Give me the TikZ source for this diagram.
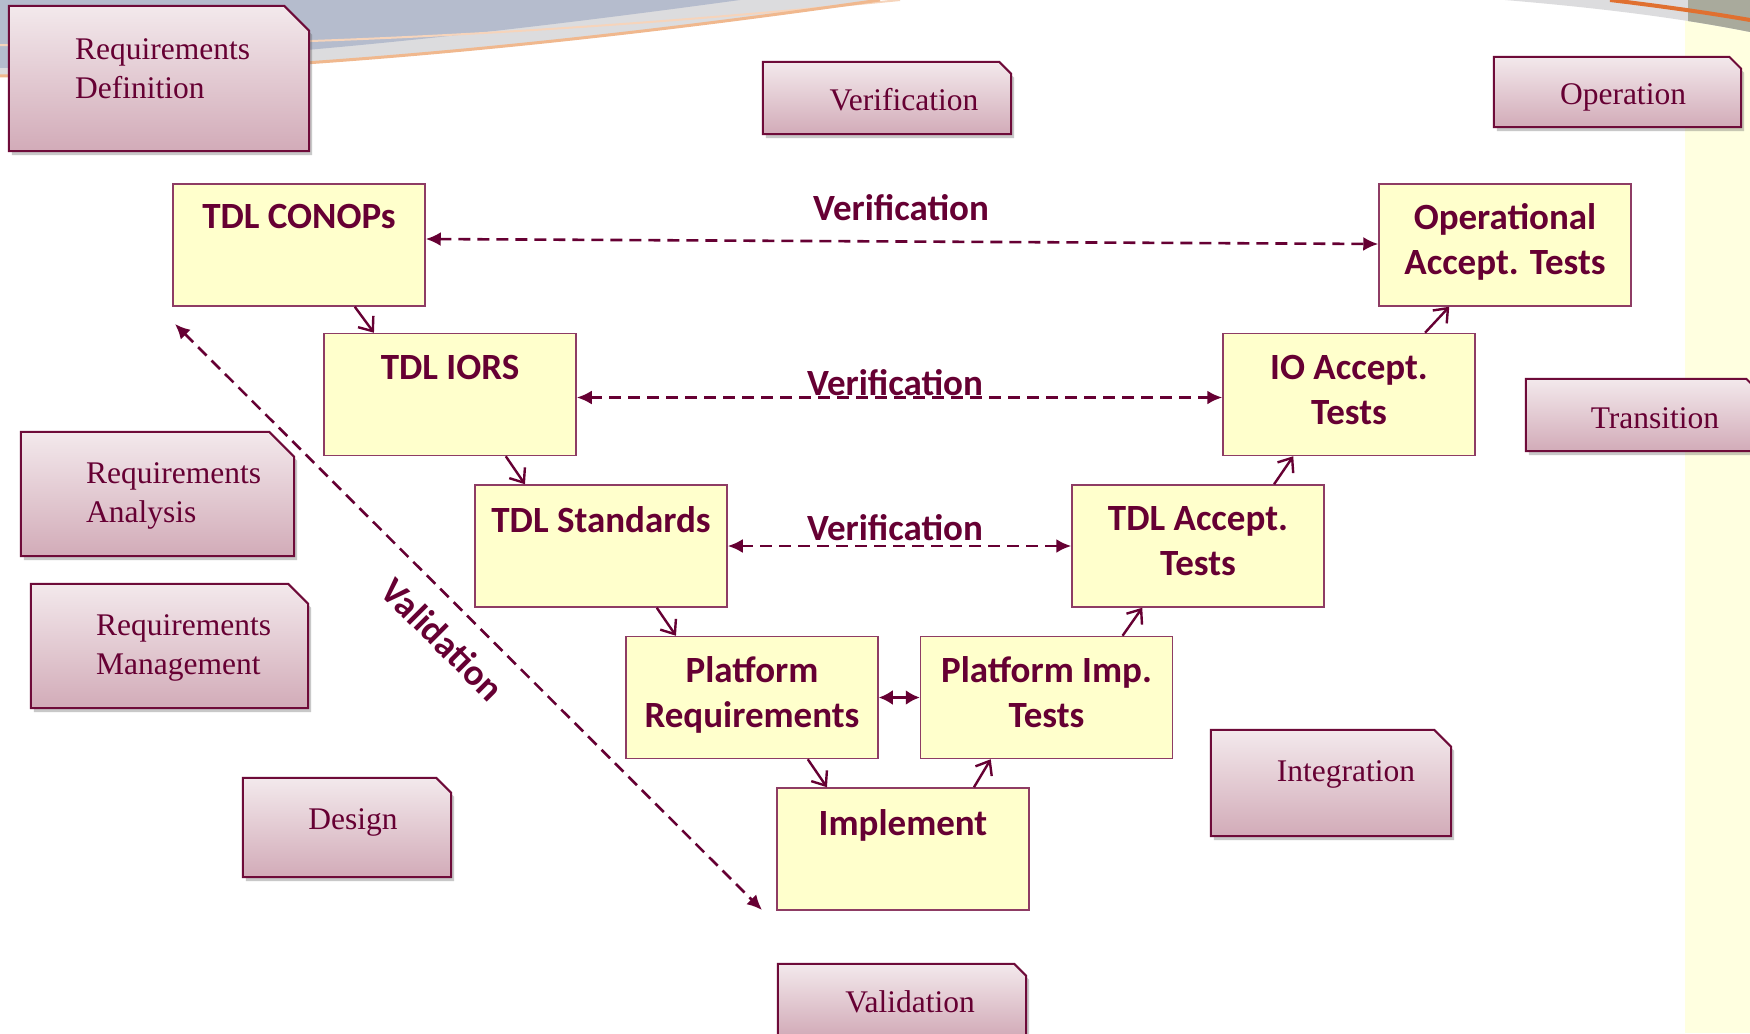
\documentclass[tikz,border=0pt]{standalone}
\usepackage{fontspec}
\setmainfont{Liberation Serif}
\newfontfamily\carl{Carlito}
\usetikzlibrary{shadows,arrows.meta,calc}
\definecolor{mar}{HTML}{660033}
\definecolor{mbord}{HTML}{6E0B39}
\definecolor{yfill}{HTML}{FFFFCC}
\definecolor{ybord}{HTML}{8E3C64}
\definecolor{ptop}{HTML}{F3E9EC}
\definecolor{pbot}{HTML}{D2ABB8}
\definecolor{band}{HTML}{FFFFE0}
\definecolor{bluegray}{HTML}{B5BCCD}
\definecolor{lgray}{HTML}{DCDCDE}
\definecolor{orng}{HTML}{F0B88E}
\definecolor{dorng}{HTML}{E07030}
\definecolor{olive}{HTML}{A9AA9C}
% name, cx, cy, w, h, chamfer
\newcommand\pinkbox[6]{%
  \node[minimum width=#4pt, minimum height=#5pt, inner sep=0pt] (#1) at (#2,#3) {};
  \path[pshape] (#1.south west) -- (#1.north west) -- ([xshift=-#6pt]#1.north east)
    -- ([yshift=-#6pt]#1.north east) -- (#1.south east) -- cycle;}
\begin{document}
\begin{tikzpicture}[x=1pt,y=-1pt,
  ybox/.style={draw=ybord, line width=1.5pt, fill=yfill, minimum width=252pt, minimum height=122pt, inner sep=0pt},
  ytxt/.style={font=\carl\bfseries\fontsize{37}{45}\selectfont, text=mar, align=center, anchor=north, inner sep=0pt},
  lbl/.style={font=\carl\bfseries\fontsize{37}{45}\selectfont, text=mar, inner sep=0pt},
  pshape/.style={draw=mbord, line width=2pt, line join=miter,
    top color=ptop, bottom color=pbot,
    drop shadow={shadow xshift=3pt, shadow yshift=-4pt, opacity=0.3, fill=black!70}},
  ptxt/.style={font=\fontsize{31.5}{39}\selectfont, text=mar, align=left, inner sep=0pt},
  flow/.style={draw=mar, line width=2.4pt, -{Straight Barb[length=12pt,width=19pt]}},
  verif/.style={draw=mar, line width=2.6pt, dash pattern=on 12pt off 7pt,
    {Latex[length=15pt,width=14pt]}-{Latex[length=15pt,width=14pt]}},
  dbl/.style={draw=mar, line width=2.6pt, {Latex[length=14pt,width=15pt]}-{Latex[length=14pt,width=15pt]}}
]
\useasboundingbox (0,0) rectangle (1750,1033);
% background
\fill[white] (0,0) rectangle (1750,1033);
\fill[band] (1685,0) rectangle (1750,1033);
\fill[lgray] (0,0) -- (0,76) .. controls (300,72) and (600,40) .. (880,0) -- cycle;
\fill[bluegray] (0,0) -- (0,68) .. controls (250,62) and (520,30) .. (740,0) -- cycle;
\draw[orng!60, line width=2pt] (0,45) .. controls (250,48) and (550,35) .. (900,0);
\draw[orng, line width=3pt] (0,76) .. controls (300,72) and (600,40) .. (880,0);
\fill[lgray] (1505,0) .. controls (1600,8) and (1680,18) .. (1750,32) -- (1750,0) -- cycle;
\begin{scope}
  \clip (1688,0) rectangle (1750,40);
  \fill[olive] (1505,0) .. controls (1600,8) and (1680,18) .. (1750,32) -- (1750,0) -- cycle;
\end{scope}
\draw[dorng, line width=4pt] (1610,0) .. controls (1660,6) and (1710,13) .. (1750,20);
% pink phase boxes
\pinkbox{rd}{159}{78.5}{300}{145}{25}
\node[ptxt, anchor=west] (rdt) at (75,69) {Requirements\\Definition};
\pinkbox{ra}{157.5}{494}{273}{124}{25}
\node[ptxt, anchor=west] (rat) at (86,496) {Requirements\\Analysis};
\pinkbox{rm}{169.5}{646}{277}{124}{20}
\node[ptxt, anchor=west] (rmt) at (96,648) {Requirements\\Management};
\pinkbox{ds}{347}{827.5}{208}{99}{15}
\node[ptxt] (dst) at (353,822) {Design};
\pinkbox{vt}{887}{98}{248}{72}{12}
\node[ptxt] (vtt) at (904,100) {Verification};
\pinkbox{op}{1617.5}{92}{247}{70}{12}
\node[ptxt] (opt) at (1623,97) {Operation};
\pinkbox{tr}{1642}{415}{232}{72}{12}
\node[ptxt] (trt) at (1655,418) {Transition};
\pinkbox{in}{1331}{783}{240}{106}{17}
\node[ptxt] (int) at (1346,774) {Integration};
\pinkbox{vb}{902}{1000}{248}{72}{12}
\node[ptxt] (vbt) at (910,1002) {Validation};
% V-model boxes
\node[ybox] (c) at (299,245) {};
\node[ybox] (iors) at (450,394.5) {};
\node[ybox] (std) at (601,546) {};
\node[ybox] (preq) at (752,697.5) {};
\node[ybox] (impl) at (903,849) {};
\node[ybox] (pimp) at (1046.5,697.5) {};
\node[ybox] (tacc) at (1198,546) {};
\node[ybox] (ioacc) at (1349,394.5) {};
\node[ybox] (opacc) at (1505,245) {};
\node[ytxt] (ct) at ([yshift=-21pt]c.north) {TDL CONOPs};
\node[ytxt] (iorst) at ([yshift=-22pt]iors.north) {TDL IORS};
\node[ytxt] (stdt) at ([yshift=-22pt]std.north) {TDL Standards};
\node[ytxt] (preqt) at ([yshift=-21pt]preq.north) {Platform\\Requirements};
\node[ytxt] (implt) at ([yshift=-22pt]impl.north) {Implement};
\node[ytxt] (pimpt) at ([yshift=-21pt]pimp.north) {Platform Imp.\\Tests};
\node[ytxt] (tacct) at ([yshift=-22pt]tacc.north) {TDL Accept.\\Tests};
\node[ytxt] (ioacct) at ([yshift=-22pt]ioacc.north) {IO Accept.\\Tests};
\node[ytxt] (opacct) at ([yshift=-20pt]opacc.north) {Operational\\Accept. Tests};
% flow arrows
\draw[flow] ($(c.south west)!0.72!(c.south east)$) -- ($(iors.north west)!0.2!(iors.north east)$);
\draw[flow] ($(iors.south west)!0.72!(iors.south east)$) -- ($(std.north west)!0.2!(std.north east)$);
\draw[flow] ($(std.south west)!0.72!(std.south east)$) -- ($(preq.north west)!0.2!(preq.north east)$);
\draw[flow] ($(preq.south west)!0.72!(preq.south east)$) -- ($(impl.north west)!0.2!(impl.north east)$);
\draw[flow] ($(impl.north west)!0.78!(impl.north east)$) -- ($(pimp.south west)!0.28!(pimp.south east)$);
\draw[flow] ($(pimp.north west)!0.8!(pimp.north east)$) -- ($(tacc.south west)!0.28!(tacc.south east)$);
\draw[flow] ($(tacc.north west)!0.8!(tacc.north east)$) -- ($(ioacc.south west)!0.28!(ioacc.south east)$);
\draw[flow] ($(ioacc.north west)!0.8!(ioacc.north east)$) -- ($(opacc.south west)!0.28!(opacc.south east)$);
% verification
\draw[verif] ([yshift=6pt]c.east) -- ([yshift=1pt]opacc.west);
\draw[verif] ([yshift=-3pt]iors.east) -- ([yshift=-3pt]ioacc.west);
\draw[verif] (std.east) -- (tacc.west);
\draw[dbl] (preq.east) -- (pimp.west);
\node[lbl] (v1) at (901,208) {Verification};
\node[lbl] (v2) at (895,383) {Verification};
\node[lbl] (v3) at (895,528) {Verification};
% validation
\coordinate (va) at (175,324);
\coordinate (vz) at (762,910);
\draw[verif] (va) -- (vz);
\node[lbl, rotate=-45] (vl) at (443,639) {Validation};
\end{tikzpicture}
\end{document}
